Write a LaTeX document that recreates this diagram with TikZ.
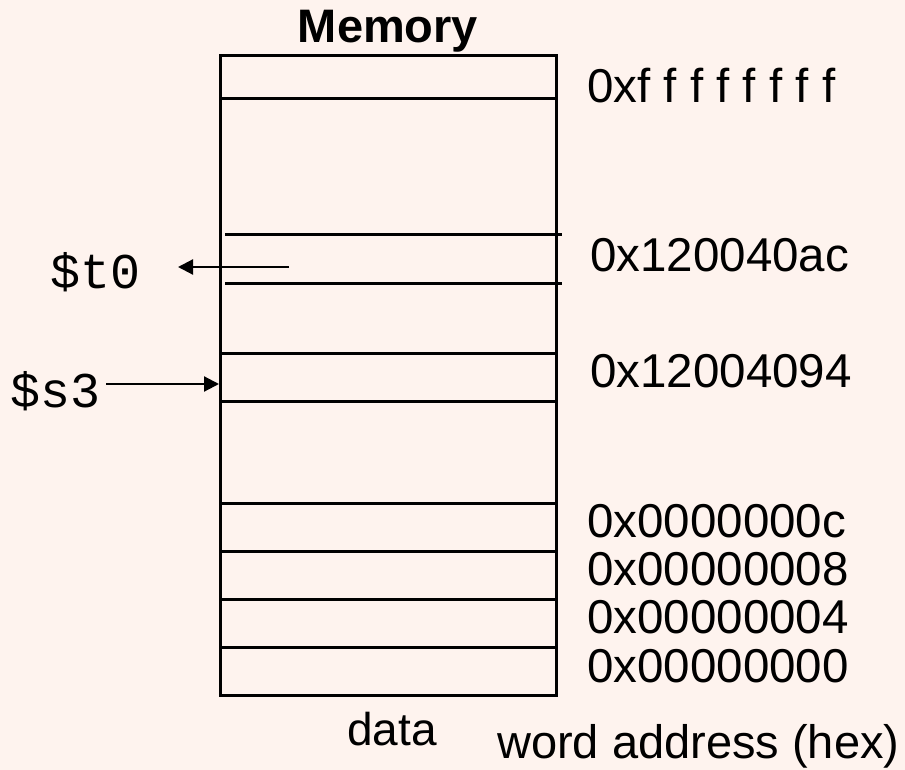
\documentclass[tikz,border=0pt]{standalone}
\usepackage{fontspec}
\setmainfont{Liberation Sans}
\setmonofont{Liberation Mono}
\usetikzlibrary{arrows.meta}
\definecolor{bgpink}{HTML}{FEF3EE}
\begin{document}
\begin{tikzpicture}[x=1pt,y=-1pt,
  wordline/.style={line width=3pt},
  addr/.style={anchor=base west, inner sep=0pt, font=\fontsize{47.5}{47.5}\selectfont},
  reglabel/.style={anchor=base west, inner sep=0pt, font=\ttfamily\fontsize{50}{50}\selectfont},
  ptr/.style={line width=2.2pt, -{Triangle[length=15pt,width=15pt]}}]
  % page background
  \fill[bgpink] (0,0) rectangle (905,770);
  \useasboundingbox (0,0) rectangle (905,770);

  % memory block outline and word boundaries
  \draw[wordline] (220,56) rectangle (556,695);
  \foreach \yy in {99,353,401,503,551,599,647}
    \draw[wordline] (220,\yy) -- (556,\yy);
  % word loaded into $t0
  \draw[wordline] (225,235) -- (562,235);
  \draw[wordline] (225,283) -- (562,283);

  % titles
  \node[anchor=base, inner sep=0pt, font=\bfseries\fontsize{47}{47}\selectfont] (title) at (388,43) {Memory};
  \node[anchor=base, inner sep=0pt, font=\fontsize{46}{46}\selectfont] (data) at (392,745) {data};
  \node[addr, font=\fontsize{47}{47}\selectfont] (wordaddr) at (497,758) {word address (hex)};

  % addresses
  \node[addr] (atop) at (587,103) {0xf f f f f f f f};
  \node[addr] (at0)  at (590,272) {0x120040ac};
  \node[addr] (as3)  at (590,387) {0x12004094};
  \node[addr] (a12)  at (587,537) {0x0000000c};
  \node[addr] (a8)   at (587,585) {0x00000008};
  \node[addr] (a4)   at (587,633) {0x00000004};
  \node[addr] (a0)   at (587,682) {0x00000000};

  % registers and their pointers
  \node[reglabel] (t0) at (50,288) {\$t0};
  \node[reglabel] (s3) at (10,407) {\$s3};
  \coordinate (t0src) at (289,267);
  \coordinate (t0dst) at (178,267);
  \coordinate (s3src) at (106,384);
  \coordinate (s3dst) at (219,384);
  \draw[ptr] (t0src) -- (t0dst);
  \draw[ptr] (s3src) -- (s3dst);
\end{tikzpicture}
\end{document}
